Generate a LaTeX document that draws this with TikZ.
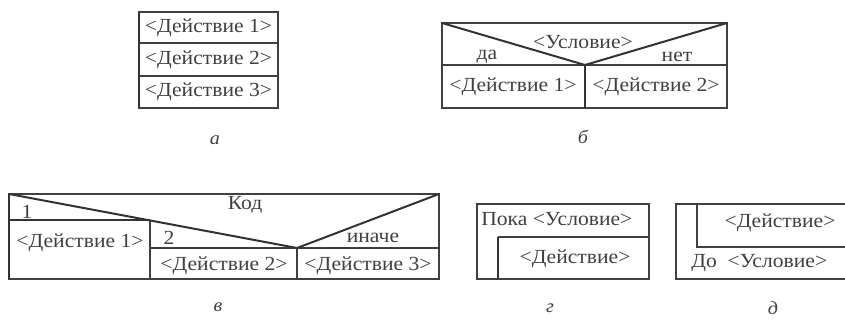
\documentclass[tikz,border=0pt]{standalone}
\usepackage{fontspec}
\setmainfont{Liberation Serif}[FakeStretch=1.08]
\begin{document}
\begin{tikzpicture}[x=0.75pt,y=-0.75pt,
  every node/.style={font=\fontsize{15pt}{17pt}\selectfont, inner sep=0pt, text=black!75},
  ln/.style={draw=black!75, line width=0.8pt},
  thk/.style={draw=black!80, line width=1.5pt},
  figlabel/.style={font=\fontsize{14pt}{16pt}\selectfont\itshape}]
\useasboundingbox (0,0) rectangle (845,320);
% (a)
\draw[ln] (139,12) rectangle (278,108);
\draw[ln] (139,43) -- (278,43);
\draw[ln] (139,76) -- (278,76);
\draw[thk] (139,12) -- (139,108);
\node (a1) at (208.5,28) {<Действие 1>};
\node (a2) at (208.5,60) {<Действие 2>};
\node (a3) at (208.5,92) {<Действие 3>};
\node[figlabel] (la) at (215,140) {а};
% (b)
\draw[ln] (442,23) rectangle (727,108);
\draw[ln] (442,65) -- (727,65);
\draw[thk] (585,65) -- (585,108);
\draw[thk] (442,23) -- (585,65) -- (727,23);
\node (bc) at (583,42) {<Условие>};
\node (by) at (487,57) {да};
\node (bn) at (677,57) {нет};
\node (b1) at (513,87) {<Действие 1>};
\node (b2) at (656,87) {<Действие 2>};
\node[figlabel] (lb) at (583,137) {б};
% (v)
\draw[ln] (9,194) rectangle (439,279);
\draw[thk] (9,194) -- (9,279);
\draw[thk] (9,220) -- (150,220);
\draw[ln] (150,220) -- (150,279);
\draw[ln] (150,248) -- (439,248);
\draw[ln] (297,248) -- (297,279);
\draw[thk] (9,194) -- (297,248) -- (439,194);
\node (vk) at (245,205) {Код};
\node (v1l) at (27,212) {1};
\node (v2l) at (169,238) {2};
\node (ve) at (373,238) {иначе};
\node (v1) at (80,243) {<Действие 1>};
\node (v2) at (224,266) {<Действие 2>};
\node (v3) at (368,266) {<Действие 3>};
\node[figlabel] (lv) at (218,307) {в};
% (g)
\draw[ln] (477,204) rectangle (649,279);
\draw[ln] (498,237) -- (649,237);
\draw[thk] (498,237) -- (498,279);
\node[anchor=west] (gc) at (481,219) {Пока <Условие>};
\node (ga) at (575,259) {<Действие>};
\node[figlabel] (lg) at (550,308) {г};
% (d)
\draw[ln] (845,204) -- (676,204) -- (676,279) -- (845,279);
\draw[ln] (697,204) -- (697,247) -- (845,247);
\node (da) at (780,223) {<Действие>};
\node[anchor=west] (dc) at (691,263) {До\ \ <Условие>};
\node[figlabel] (ld) at (773,308) {д};
\end{tikzpicture}
\end{document}
